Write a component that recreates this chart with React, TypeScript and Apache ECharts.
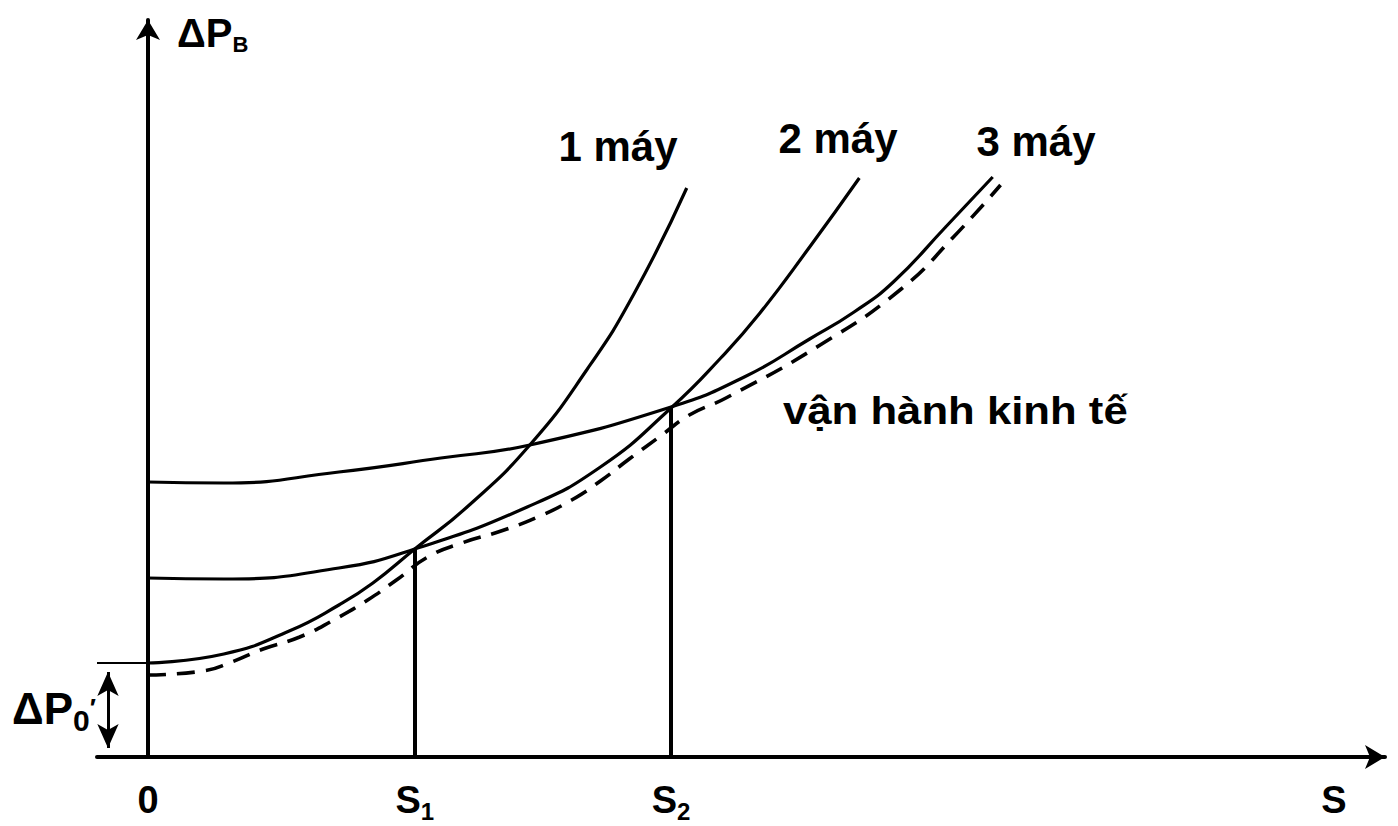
import React, { useEffect, useRef } from "react";
import * as echarts from "echarts";

// ---- axis ticks (S values) ----
const tickValues = [0, 1.02, 2.0, 4.535];
const tickMain = ["0", "S", "S", "S"];
const tickSub = ["", "1", "2", ""];

// ---- key values ----
const xMin = -0.195;
const xMax = 4.73;
const yMax = 7.37;
const s1 = 1.02;
const s2 = 2.0;
const lossAtS1 = 2.08;
const lossAtS2 = 3.49;
const p0Level = 0.94;
const p0ArrowX = -0.153;
const p0ArrowY = [0.09, 0.85];

// ---- curves: S (x) and ΔP (y) ----
const oneX = [0, 0.29, 0.54, 0.73, 0.86, 1.02, 1.22, 1.46, 1.68, 1.86, 2.06];
const oneY = [0.94, 1.03, 1.26, 1.52, 1.74, 2.08, 2.5, 3.12, 3.88, 4.64, 5.69];

const twoX = [0, 0.29, 0.73, 1.02, 1.45, 1.73, 2.0, 2.19, 2.34, 2.53, 2.72];
const twoY = [1.79, 1.78, 1.89, 2.08, 2.5, 2.9, 3.49, 3.99, 4.44, 5.1, 5.79];

const threeX = [0, 0.29, 0.73, 1.12, 1.46, 2.0, 2.28, 2.53, 2.7, 2.85, 3.05, 3.23];
const threeY = [2.75, 2.74, 2.85, 2.99, 3.12, 3.5, 3.8, 4.18, 4.45, 4.75, 5.3, 5.8];

const ecoX = [0, 0.21, 0.32, 0.44, 0.58, 0.71, 0.84, 0.95, 1.07, 1.2, 1.35, 1.49, 1.62, 1.73, 1.84, 1.96, 2.07, 2.21, 2.57, 2.88, 3.08, 3.26];
const ecoY = [0.82, 0.86, 0.95, 1.08, 1.2, 1.37, 1.57, 1.77, 2.0, 2.14, 2.26, 2.4, 2.57, 2.76, 2.98, 3.21, 3.42, 3.59, 4.12, 4.68, 5.2, 5.72];

const curveNames = ["1 máy", "2 máy", "3 máy"];
const ecoName = "vận hành kinh tế";

const FONT = "'Liberation Sans', Arial, sans-serif";

const pairs = (xs: number[], ys: number[]) => xs.map((x, i) => [x, ys[i]]);

export default function App() {
  const ref = useRef<HTMLDivElement>(null);

  useEffect(() => {
    if (!ref.current) return;
    const chart = echarts.init(ref.current, null, { renderer: "svg" });

    const lineSeries = (name: string, xs: number[], ys: number[], extra: any = {}) => ({
      name,
      type: "line",
      data: pairs(xs, ys),
      smooth: 0.5,
      showSymbol: false,
      symbol: "none",
      silent: true,
      lineStyle: { color: "#000", width: 3.2 },
      ...extra,
    });

    const labelText = (text: string, x: number, y: number, size: number, align: string, scaleX = 1) => ({
      type: "text",
      x,
      y,
      scaleX,
      silent: true,
      style: {
        text,
        fill: "#000",
        fontFamily: FONT,
        fontWeight: "bold",
        fontSize: size,
        align,
        textAlign: align,
        verticalAlign: "middle",
        textVerticalAlign: "middle",
      },
    });

    const option: any = {
      animation: false,
      backgroundColor: "#fff",
      grid: { left: 97, right: 13, top: 20, bottom: 69, outerBoundsMode: "none" },
      xAxis: {
        type: "value",
        min: xMin,
        max: xMax,
        axisLine: {
          show: true,
          onZero: false,
          symbol: ["none", "arrow"],
          symbolSize: [18, 20],
          lineStyle: { color: "#000", width: 4 },
        },
        axisTick: { show: false },
        splitLine: { show: false },
        axisLabel: {
          show: true,
          customValues: tickValues,
          margin: 20,
          formatter: (v: number) => {
            const i = tickValues.findIndex((t) => Math.abs(t - v) < 1e-6);
            if (i < 0) return "";
            return tickSub[i] ? `{m|${tickMain[i]}}{s|${tickSub[i]}}` : `{m|${tickMain[i]}}`;
          },
          rich: {
            m: { fontFamily: FONT, fontWeight: "bold", fontSize: 38, lineHeight: 46, color: "#000" },
            s: { fontFamily: FONT, fontWeight: "bold", fontSize: 24, lineHeight: 24, color: "#000", verticalAlign: "bottom" },
          },
        },
      },
      yAxis: {
        type: "value",
        min: 0,
        max: yMax,
        axisLine: {
          show: true,
          onZero: true,
          symbol: ["none", "arrow"],
          symbolSize: [18, 20],
          lineStyle: { color: "#000", width: 4 },
        },
        axisTick: { show: false },
        axisLabel: { show: false },
        splitLine: { show: false },
      },
      series: [
        lineSeries(curveNames[0], oneX, oneY),
        lineSeries(curveNames[1], twoX, twoY),
        lineSeries(curveNames[2], threeX, threeY, {
          markLine: {
            silent: true,
            symbol: "none",
            label: { show: false },
            lineStyle: { color: "#000", width: 4, type: "solid" },
            data: [
              [{ coord: [s1, 0] }, { coord: [s1, lossAtS1] }],
              [{ coord: [s2, 0] }, { coord: [s2, lossAtS2] }],
              [{ coord: [xMin, p0Level], lineStyle: { width: 2 } }, { coord: [0, p0Level] }],
            ],
          },
        }),
        lineSeries(ecoName, ecoX, ecoY, {
          lineStyle: { color: "#000", width: 3.6, type: [18, 11] },
          markLine: {
            silent: true,
            symbol: ["arrow", "arrow"],
            symbolSize: [16, 24],
            label: { show: false },
            lineStyle: { color: "#000", width: 3, type: "solid" },
            data: [[{ coord: [p0ArrowX, p0ArrowY[0]] }, { coord: [p0ArrowX, p0ArrowY[1]] }]],
          },
        }),
      ],
      graphic: [
        labelText(curveNames[0], 618, 146, 42, "center"),
        labelText(curveNames[1], 838, 138, 42, "center"),
        labelText(curveNames[2], 1036, 141, 42, "center"),
        labelText(ecoName, 783, 411, 38, "left", 1.15),
        {
          type: "text",
          x: 177,
          y: 33,
          silent: true,
          style: {
            text: "{a|ΔP}{b|B}",
            align: "left",
            textAlign: "left",
            verticalAlign: "middle",
            textVerticalAlign: "middle",
            rich: {
              a: { fontFamily: FONT, fontWeight: "bold", fontSize: 40, lineHeight: 44, fill: "#000", color: "#000" },
              b: { fontFamily: FONT, fontWeight: "bold", fontSize: 22, lineHeight: 22, fill: "#000", color: "#000", verticalAlign: "bottom" },
            },
          },
        },
        {
          type: "text",
          x: 12,
          y: 708,
          silent: true,
          style: {
            text: "{a|ΔP}{b|0}{c|′}",
            align: "left",
            textAlign: "left",
            verticalAlign: "middle",
            textVerticalAlign: "middle",
            rich: {
              a: { fontFamily: FONT, fontWeight: "bold", fontSize: 44, lineHeight: 54, fill: "#000", color: "#000" },
              b: { fontFamily: FONT, fontWeight: "bold", fontSize: 30, lineHeight: 30, fill: "#000", color: "#000", verticalAlign: "bottom" },
              c: { fontFamily: FONT, fontWeight: "bold", fontSize: 26, lineHeight: 26, fill: "#000", color: "#000" },
            },
          },
        },
      ],
    };

    chart.setOption(option);
    return () => chart.dispose();
  }, []);

  return <div ref={ref} style={{ width: 1398, height: 826, position: "absolute", left: 0, top: 0 }} />;
}
